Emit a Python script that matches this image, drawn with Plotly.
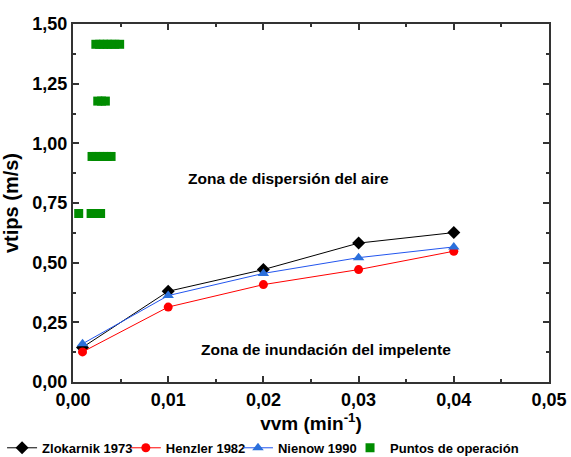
import plotly.graph_objects as go

vvm = [0.001, 0.01, 0.02, 0.03, 0.04]
zlokarnik = [0.145, 0.380, 0.471, 0.582, 0.626]
henzler = [0.126, 0.314, 0.408, 0.471, 0.548]
nienow = [0.160, 0.362, 0.455, 0.521, 0.566]

op_x = [0.0024, 0.0028, 0.0032, 0.0036, 0.0040, 0.0044, 0.0049,
        0.0026, 0.0030, 0.0034,
        0.0020, 0.0024, 0.0028, 0.0032, 0.0036, 0.0040,
        0.0006, 0.0019, 0.0023, 0.0026, 0.0029]
op_y = [1.415, 1.415, 1.415, 1.415, 1.415, 1.415, 1.415,
        1.177, 1.177, 1.177,
        0.945, 0.945, 0.945, 0.945, 0.945, 0.945,
        0.706, 0.706, 0.706, 0.706, 0.706]

FONT = "Liberation Sans, Arial, sans-serif"

fig = go.Figure()
fig.add_trace(go.Scatter(x=vvm, y=zlokarnik, mode="lines+markers", name="Zlokarnik 1973",
                         line=dict(color="black", width=1), legend="legend",
                         marker=dict(symbol="diamond", size=10, color="black")))
fig.add_trace(go.Scatter(x=vvm, y=henzler, mode="lines+markers", name="Henzler 1982",
                         line=dict(color="#FF0000", width=1), legend="legend2",
                         marker=dict(symbol="circle", size=9, color="#FF0000")))
fig.add_trace(go.Scatter(x=vvm, y=nienow, mode="lines+markers", name="Nienow 1990",
                         line=dict(color="#2255EE", width=1), legend="legend3",
                         marker=dict(symbol="triangle-up", size=10, color="#2A6FDB")))
fig.add_trace(go.Scatter(x=op_x, y=op_y, mode="markers", name="Puntos de operación",
                         legend="legend4",
                         marker=dict(symbol="square", size=9, color="#008C00",
                                     line=dict(width=0))))

axis_common = dict(
    showline=True, linecolor="#333333", linewidth=2, mirror="allticks",
    ticks="inside", ticklen=6, tickwidth=1.5, tickcolor="#333333",
    showgrid=False, zeroline=False, automargin=False,
    tickfont=dict(family=FONT, size=18, color="black", weight="bold"),
)

fig.update_xaxes(range=[0, 0.05], dtick=0.01, tickformat=".2f", ticklabeloverflow="allow",
                 minor=dict(ticks="inside", ticklen=3, dtick=0.005, tickcolor="#333333", tickwidth=1.5),
                 title=dict(text="vvm (min<sup>-1</sup>)", standoff=7,
                            font=dict(family=FONT, size=19, color="black", weight="bold")),
                 **axis_common)
fig.update_yaxes(range=[0, 1.5], dtick=0.25, tickformat=".2f",
                 minor=dict(ticks="inside", ticklen=3, dtick=0.125, tickcolor="#333333", tickwidth=1.5),
                 title=dict(text="vtips (m/s)", font=dict(family=FONT, size=20, color="black", weight="bold")),
                 **axis_common)

fig.add_annotation(x=0.0226, y=0.854, xref="x", yref="y", text="Zona de dispersión del aire",
                   showarrow=False, font=dict(family=FONT, size=15.5, color="black", weight="bold"))
fig.add_annotation(x=0.0266, y=0.137, xref="x", yref="y", text="Zona de inundación del impelente",
                   showarrow=False, font=dict(family=FONT, size=15.5, color="black", weight="bold"))

leg_common = dict(orientation="h", xanchor="left", y=-0.142, yanchor="top",
                  font=dict(family=FONT, size=13, color="black", weight="bold"),
                  itemwidth=30, tracegroupgap=0, bgcolor="rgba(0,0,0,0)")

fig.update_layout(
    width=571, height=457,
    margin=dict(l=73, r=22, t=24, b=75, autoexpand=False),
    paper_bgcolor="white", plot_bgcolor="white",
    separators=",.",
    showlegend=True,
    legend=dict(x=-0.149, **leg_common),
    legend2=dict(x=0.111, **leg_common),
    legend3=dict(x=0.3466, **leg_common),
    legend4=dict(x=0.582, **leg_common),
)

fig.write_html("out.html",
               config={"displayModeBar": False},
               post_script="document.body.style.margin='0';document.body.style.overflow='hidden';")
